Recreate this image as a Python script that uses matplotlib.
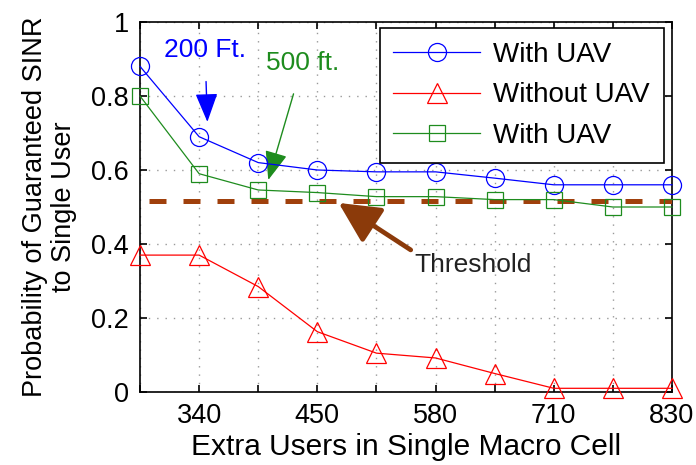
import matplotlib
matplotlib.use("Agg")
import matplotlib.pyplot as plt
import numpy as np

plt.rcParams['font.family'] = ['Liberation Sans', 'DejaVu Sans']

# data
x_pos = [1, 2, 3, 4, 5, 6, 7, 8, 9, 10]
x_labels = ['', '340', '', '450', '', '580', '', '710', '', '830']
with_uav_200 = [0.88, 0.69, 0.62, 0.60, 0.595, 0.595, 0.578, 0.56, 0.56, 0.56]
without_uav = [0.37, 0.37, 0.285, 0.163, 0.105, 0.092, 0.05, 0.01, 0.01, 0.01]
with_uav_500 = [0.80, 0.59, 0.546, 0.539, 0.528, 0.528, 0.52, 0.52, 0.50, 0.50]
threshold = 0.517
y_ticks = [0, 0.2, 0.4, 0.6, 0.8, 1.0]
y_labels = ['0', '0.2', '0.4', '0.6', '0.8', '1']

fs = 19
fig = plt.figure(figsize=(6.96, 4.65), dpi=100)
ax = fig.add_axes([140/696, 1-392/465, (672-140)/696, (392-22)/465])

blue = '#0000ff'
red = '#ff0000'
green = '#1e8c1e'
brown = '#a0400c'

ax.plot(x_pos, with_uav_200, '-o', color=blue, lw=0.9, ms=13, mfc='none', mew=0.9, label='With UAV', clip_on=False, zorder=4)
ax.plot(x_pos, without_uav, '-^', color=red, lw=0.9, ms=14, mfc='none', mew=0.9, label='Without UAV', clip_on=False, zorder=4)
ax.plot(x_pos, with_uav_500, '-s', color=green, lw=0.9, ms=11, mfc='none', mew=0.9, label='With UAV', clip_on=False, zorder=4)
ax.plot([1.15, 10], [threshold, threshold], color=brown, lw=3.6, dashes=(3.4, 3.4), zorder=3)

ax.set_xlim(1, 10)
ax.set_ylim(0, 1)
ax.set_xticks(x_pos)
ax.set_xticklabels(x_labels, fontsize=19.5)
ax.set_yticks(y_ticks)
ax.set_yticklabels(y_labels, fontsize=19.5)
ax.tick_params(direction='in', length=5, width=1.2, top=True, right=True, pad=8)
ax.grid(True, linestyle=(0, (1, 5)), color='#999999', lw=1.0)
for s in ax.spines.values():
    s.set_linewidth(1.2)

ax.set_xlabel('Extra Users in Single Macro Cell', fontsize=21.5, labelpad=3)
ax.set_ylabel('Probability of Guaranteed SINR\nto Single User', fontsize=19.5, labelpad=10, linespacing=1.15)

leg = ax.legend(loc='upper right', bbox_to_anchor=((664-140)/532, 1 - 6/370), fontsize=20,
                fancybox=False, edgecolor='black', framealpha=1, handlelength=3.1,
                borderpad=0.5, labelspacing=0.52, handletextpad=0.5, borderaxespad=0)
leg.get_frame().set_linewidth(1.2)

ax.annotate('200 Ft.', xy=(2.14, 0.73), xytext=(2.10, 0.924), color=blue, fontsize=fs,
            ha='center', va='center',
            arrowprops=dict(arrowstyle='-|>,head_length=0.9,head_width=0.35', mutation_scale=20,
                            color=blue, lw=1.0, shrinkA=12, shrinkB=0))
ax.annotate('500 ft.', xy=(3.17, 0.573), xytext=(3.75, 0.889), color=green, fontsize=fs,
            ha='center', va='center',
            arrowprops=dict(arrowstyle='-|>,head_length=0.9,head_width=0.35', mutation_scale=20,
                            color=green, lw=1.0, shrinkA=12, shrinkB=0))
ax.annotate('', xy=(4.36, 0.511), xytext=(5.58, 0.384),
            arrowprops=dict(arrowstyle='-|>,head_length=1.0,head_width=0.5', mutation_scale=25,
                            color='#8b3a0a', lw=3.4, shrinkA=0, shrinkB=0))
ax.text(6.63, 0.343, 'Threshold', fontsize=fs, ha='center', va='center', color='#222222')

fig.savefig('out.png', dpi=100)
